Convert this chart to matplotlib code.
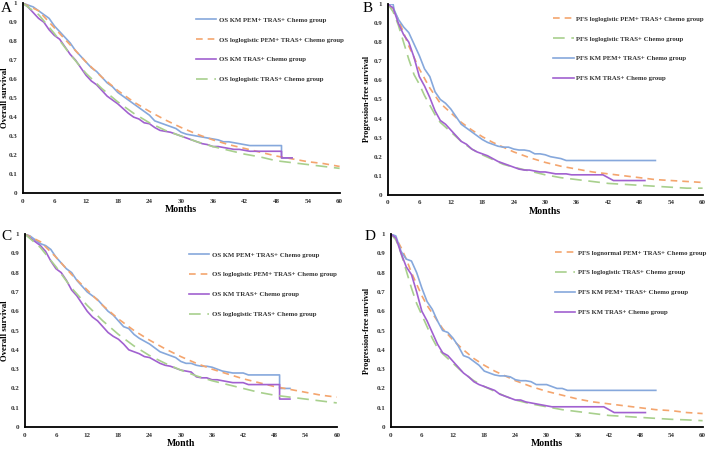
import matplotlib
matplotlib.use('Agg')
import matplotlib.pyplot as plt

plt.rcParams['font.family'] = ['Liberation Serif', 'DejaVu Serif']

BLUE = '#86a8dc'
ORANGE = '#f4a56e'
PURPLE = '#a161d0'
GREEN = '#a8d08d'

# ---- panel A (OS) ----
a_km_pem_t = [0, 1, 2, 3, 4, 5, 6, 7, 8, 9, 10, 11, 12, 13, 14, 15, 16, 17, 18, 19, 20, 21, 22, 23, 24, 25,
              26, 27, 28, 29, 30, 31, 32, 33, 34, 35, 36, 37, 38, 39, 40, 41, 42, 43, 49, 49, 51]
a_km_pem_s = [1, 0.99, 0.98, 0.96, 0.94, 0.92, 0.88, 0.85, 0.82, 0.79, 0.75, 0.72, 0.69, 0.66, 0.64, 0.61, 0.58,
              0.56, 0.53, 0.51, 0.49, 0.47, 0.45, 0.43, 0.41, 0.38, 0.37, 0.36, 0.35, 0.34, 0.32, 0.31, 0.305, 0.30,
              0.295, 0.29, 0.285, 0.28, 0.27, 0.27, 0.265, 0.26, 0.255, 0.25, 0.25, 0.185, 0.185]
a_km_tras_t = [0, 1, 2, 3, 4, 5, 6, 7, 8, 9, 10, 11, 12, 13, 14, 15, 16, 17, 18, 19, 20, 21, 22, 23, 24, 25,
               26, 27, 28, 29, 30, 31, 32, 33, 34, 35, 36, 37, 38, 39, 40, 41, 42, 43, 49, 49, 51]
a_km_tras_s = [1, 0.98, 0.95, 0.92, 0.90, 0.86, 0.83, 0.81, 0.77, 0.73, 0.70, 0.66, 0.62, 0.59, 0.57, 0.54, 0.51,
               0.49, 0.47, 0.445, 0.42, 0.40, 0.39, 0.37, 0.365, 0.345, 0.33, 0.325, 0.32, 0.31, 0.30, 0.29, 0.28,
               0.27, 0.26, 0.255, 0.245, 0.245, 0.24, 0.235, 0.23, 0.23, 0.225, 0.22, 0.22, 0.185, 0.185]
fit_t = [0, 3, 6, 9, 12, 15, 18, 21, 24, 27, 30, 33, 36, 39, 42, 45, 48, 51, 54, 57, 60]
a_fit_pem = [1, 0.96, 0.87, 0.78, 0.69, 0.61, 0.54, 0.48, 0.43, 0.385, 0.345, 0.31, 0.28, 0.255, 0.235,
             0.215, 0.195, 0.18, 0.165, 0.155, 0.14]
a_fit_tras = [1, 0.94, 0.84, 0.73, 0.63, 0.55, 0.48, 0.42, 0.37, 0.33, 0.30, 0.27, 0.245, 0.225, 0.205,
              0.19, 0.17, 0.16, 0.15, 0.14, 0.13]

# ---- panel C (OS) ----
c_km_pem_t = a_km_pem_t
c_km_pem_s = [1, 0.99, 0.97, 0.95, 0.94, 0.92, 0.88, 0.85, 0.82, 0.80, 0.76, 0.73, 0.70, 0.68, 0.66, 0.63, 0.60,
              0.58, 0.55, 0.52, 0.51, 0.48, 0.46, 0.445, 0.43, 0.41, 0.39, 0.38, 0.37, 0.36, 0.34, 0.33, 0.33, 0.32,
              0.315, 0.315, 0.31, 0.30, 0.29, 0.285, 0.28, 0.28, 0.28, 0.27, 0.27, 0.20, 0.20]
c_km_tras_t = a_km_tras_t
c_km_tras_s = [1, 0.98, 0.96, 0.94, 0.91, 0.86, 0.82, 0.80, 0.76, 0.71, 0.68, 0.64, 0.60, 0.57, 0.55, 0.52, 0.49,
               0.47, 0.455, 0.43, 0.40, 0.39, 0.38, 0.365, 0.36, 0.345, 0.33, 0.32, 0.315, 0.305, 0.295, 0.29, 0.285,
               0.26, 0.255, 0.255, 0.245, 0.245, 0.24, 0.235, 0.23, 0.23, 0.23, 0.22, 0.22, 0.145, 0.145]
c_fit_pem = [1, 0.96, 0.88, 0.79, 0.71, 0.63, 0.56, 0.50, 0.45, 0.405, 0.365, 0.33, 0.30, 0.275, 0.25,
             0.23, 0.21, 0.195, 0.18, 0.165, 0.155]
c_fit_tras = [1, 0.93, 0.83, 0.72, 0.63, 0.55, 0.48, 0.42, 0.37, 0.33, 0.295, 0.265, 0.24, 0.22, 0.20,
              0.18, 0.165, 0.155, 0.145, 0.135, 0.125]

# ---- panel B (PFS) ----
pfs_fit_t = [0, 1, 2, 3, 4, 5, 6, 7, 8, 9, 10, 12, 14, 16, 18, 20, 22, 24, 27, 30, 33, 36, 39, 42, 45, 48,
             51, 54, 57, 60]
b_fit_pem = [1, 0.97, 0.92, 0.85, 0.78, 0.72, 0.66, 0.61, 0.56, 0.52, 0.48, 0.43, 0.38, 0.34, 0.305, 0.275,
             0.25, 0.225, 0.195, 0.17, 0.15, 0.135, 0.12, 0.11, 0.10, 0.09, 0.08, 0.075, 0.07, 0.065]
b_fit_tras = [1, 0.96, 0.89, 0.80, 0.71, 0.63, 0.58, 0.52, 0.47, 0.42, 0.38, 0.33, 0.28, 0.24, 0.21, 0.185,
              0.16, 0.145, 0.125, 0.105, 0.09, 0.08, 0.07, 0.06, 0.055, 0.05, 0.045, 0.04, 0.035, 0.035]
b_km_pem_t = [0, 1, 1.2, 2, 3, 4, 5, 6, 7, 8, 9, 10, 11, 12, 13, 14, 15, 16, 17, 18, 19, 20, 21, 22, 23, 24,
              25, 26, 27, 28, 29, 30, 31, 32, 33, 34, 51]
b_km_pem_s = [1, 1.0, 0.97, 0.92, 0.88, 0.85, 0.79, 0.73, 0.66, 0.62, 0.54, 0.50, 0.48, 0.45, 0.41, 0.37, 0.35,
              0.33, 0.31, 0.29, 0.275, 0.265, 0.255, 0.25, 0.25, 0.24, 0.235, 0.235, 0.23, 0.215, 0.215, 0.21,
              0.20, 0.195, 0.19, 0.18, 0.18]
b_km_tras_t = [0, 1, 2, 3, 4, 5, 6, 7, 8, 9, 10, 11, 12, 13, 14, 15, 16, 17, 18, 19, 20, 21, 22, 23, 24, 25,
               26, 27, 28, 29, 30, 31, 32, 34, 35, 41, 42, 43, 49]
b_km_tras_s = [1, 0.98, 0.90, 0.84, 0.80, 0.72, 0.62, 0.57, 0.51, 0.44, 0.39, 0.37, 0.34, 0.31, 0.28, 0.265,
               0.24, 0.225, 0.215, 0.205, 0.19, 0.175, 0.165, 0.155, 0.145, 0.135, 0.13, 0.13, 0.125, 0.12, 0.12,
               0.115, 0.11, 0.11, 0.105, 0.105, 0.09, 0.075, 0.075]

# ---- panel D (PFS) ----
d_fit_pem = [1, 0.98, 0.93, 0.87, 0.80, 0.74, 0.68, 0.63, 0.59, 0.55, 0.51, 0.45, 0.40, 0.355, 0.32, 0.29,
             0.265, 0.24, 0.21, 0.185, 0.165, 0.145, 0.13, 0.12, 0.11, 0.10, 0.09, 0.085, 0.075, 0.07]
d_fit_tras = [1, 0.97, 0.90, 0.81, 0.72, 0.64, 0.58, 0.52, 0.46, 0.41, 0.38, 0.33, 0.28, 0.24, 0.21, 0.185,
              0.16, 0.14, 0.12, 0.105, 0.09, 0.08, 0.07, 0.06, 0.055, 0.05, 0.045, 0.04, 0.037, 0.033]
d_km_pem_t = [0, 1, 1.5, 2, 3, 4, 5, 6, 7, 8, 9, 10, 11, 12, 13, 14, 15, 16, 17, 18, 19, 20, 21, 22, 23, 24,
              25, 26, 27, 28, 29, 30, 31, 32, 33, 34, 51]
d_km_pem_s = [1, 0.99, 0.95, 0.91, 0.87, 0.86, 0.80, 0.72, 0.65, 0.61, 0.55, 0.50, 0.49, 0.46, 0.42, 0.37, 0.36,
              0.34, 0.32, 0.29, 0.28, 0.27, 0.265, 0.265, 0.26, 0.245, 0.24, 0.24, 0.235, 0.22, 0.22, 0.22, 0.21,
              0.20, 0.20, 0.19, 0.19]
d_km_tras_t = [0, 1, 2, 3, 4, 5, 6, 7, 8, 9, 10, 11, 12, 13, 14, 15, 16, 17, 18, 19, 20, 21, 22, 23, 24, 25,
               26, 27, 28, 29, 30, 31, 32, 41, 42, 43, 49]
d_km_tras_s = [1, 0.98, 0.90, 0.83, 0.79, 0.70, 0.60, 0.55, 0.49, 0.43, 0.385, 0.37, 0.34, 0.31, 0.28, 0.26,
               0.235, 0.22, 0.21, 0.20, 0.19, 0.17, 0.16, 0.15, 0.14, 0.14, 0.13, 0.125, 0.12, 0.115, 0.11, 0.105,
               0.105, 0.105, 0.09, 0.075, 0.075]

x_ticks = list(range(0, 61, 6))
y_ticks = [0, 0.1, 0.2, 0.3, 0.4, 0.5, 0.6, 0.7, 0.8, 0.9, 1]
y_tick_labels = ['0', '0.1', '0.2', '0.3', '0.4', '0.5', '0.6', '0.7', '0.8', '0.9', '1']


def style_axes(ax, ylabel, xlabel, ylab_x, ylab_size):
    ax.set_xlim(0, 60)
    ax.set_ylim(0, 1)
    ax.set_xticks(x_ticks)
    ax.set_xticklabels([str(t) for t in x_ticks])
    ax.set_yticks(y_ticks)
    ax.set_yticklabels(y_tick_labels)
    ax.tick_params(length=0, labelsize=5, pad=4)
    for lab in ax.get_xticklabels() + ax.get_yticklabels():
        lab.set_fontweight('bold')
        lab.set_color('#333333')
    ax.spines['top'].set_visible(False)
    ax.spines['right'].set_visible(False)
    ax.spines['left'].set_linewidth(1.3)
    ax.spines['bottom'].set_linewidth(1.3)
    ax.set_ylabel(ylabel, fontsize=ylab_size, fontweight='bold')
    ax.yaxis.set_label_coords(ylab_x, 0.5)
    ax.set_xlabel(xlabel, fontsize=7, fontweight='bold', labelpad=1)


def add_legend(ax, x, y):
    leg = ax.legend(loc='upper left', bbox_to_anchor=(x, y), frameon=False, handlelength=3.0,
                    labelspacing=2.1, borderpad=0, handletextpad=0.4,
                    prop={'family': 'Liberation Serif', 'weight': 'bold', 'size': 4.85})
    for t in leg.get_texts():
        t.set_color('#333333')


fig = plt.figure(figsize=(7.09, 4.5), dpi=100)

# A
ax = fig.add_axes([0.032, 0.571, 0.447, 0.422])
ax.plot(a_km_pem_t, a_km_pem_s, color=BLUE, lw=1.2, label='OS KM PEM+ TRAS+ Chemo group')
ax.plot(fit_t, a_fit_pem, color=ORANGE, lw=1.2, ls=(0, (4, 3)), label='OS loglogistic PEM+ TRAS+ Chemo group')
ax.plot(a_km_tras_t, a_km_tras_s, color=PURPLE, lw=1.2, label='OS KM TRAS+ Chemo group')
ax.plot(fit_t, a_fit_tras, color=GREEN, lw=1.2, ls=(0, (7, 4)), label='OS loglogistic TRAS+ Chemo group')
style_axes(ax, 'Overall survival', 'Months', -0.044, 6.3)
add_legend(ax, 0.537, 0.945)

# B
ax = fig.add_axes([0.547, 0.567, 0.444, 0.424])
ax.plot(pfs_fit_t, b_fit_pem, color=ORANGE, lw=1.2, ls=(0, (4, 3)), label='PFS loglogistic PEM+ TRAS+ Chemo group')
ax.plot(pfs_fit_t, b_fit_tras, color=GREEN, lw=1.2, ls=(0, (7, 4)), label='PFS loglogistic TRAS+ Chemo group')
ax.plot(b_km_pem_t, b_km_pem_s, color=BLUE, lw=1.2, label='PFS KM PEM+ TRAS+ Chemo group')
ax.plot(b_km_tras_t, b_km_tras_s, color=PURPLE, lw=1.2, label='PFS KM TRAS+ Chemo group')
style_axes(ax, 'Progression-free survival', 'Months', -0.055, 5.8)
add_legend(ax, 0.515, 0.955)

# C
ax = fig.add_axes([0.035, 0.051, 0.44, 0.429])
ax.plot(c_km_pem_t, c_km_pem_s, color=BLUE, lw=1.2, label='OS KM PEM+ TRAS+ Chemo group')
ax.plot(fit_t, c_fit_pem, color=ORANGE, lw=1.2, ls=(0, (4, 3)), label='OS loglogistic PEM+ TRAS+ Chemo group')
ax.plot(c_km_tras_t, c_km_tras_s, color=PURPLE, lw=1.2, label='OS KM TRAS+ Chemo group')
ax.plot(fit_t, c_fit_tras, color=GREEN, lw=1.2, ls=(0, (7, 4)), label='OS loglogistic TRAS+ Chemo group')
style_axes(ax, 'Overall survival', 'Month', -0.05, 6.3)
add_legend(ax, 0.515, 0.925)

# D
ax = fig.add_axes([0.551, 0.051, 0.44, 0.429])
ax.plot(pfs_fit_t, d_fit_pem, color=ORANGE, lw=1.2, ls=(0, (4, 3)), label='PFS lognormal PEM+ TRAS+ Chemo group')
ax.plot(pfs_fit_t, d_fit_tras, color=GREEN, lw=1.2, ls=(0, (7, 4)), label='PFS loglogistic TRAS+ Chemo group')
ax.plot(d_km_pem_t, d_km_pem_s, color=BLUE, lw=1.2, label='PFS KM PEM+ TRAS+ Chemo group')
ax.plot(d_km_tras_t, d_km_tras_s, color=PURPLE, lw=1.2, label='PFS KM TRAS+ Chemo group')
style_axes(ax, 'Progression-free survival', 'Months', -0.064, 5.8)
add_legend(ax, 0.515, 0.935)

# panel letters
fig.text(1 / 709, 1 - 9 / 450, 'A', fontsize=11, va='center', ha='left')
fig.text(363 / 709, 1 - 8 / 450, 'B', fontsize=11, va='center', ha='left')
fig.text(1 / 709, 1 - 237 / 450, 'C', fontsize=11, va='center', ha='left')
fig.text(365 / 709, 1 - 237 / 450, 'D', fontsize=11, va='center', ha='left')

fig.savefig('out.png', dpi=100)
